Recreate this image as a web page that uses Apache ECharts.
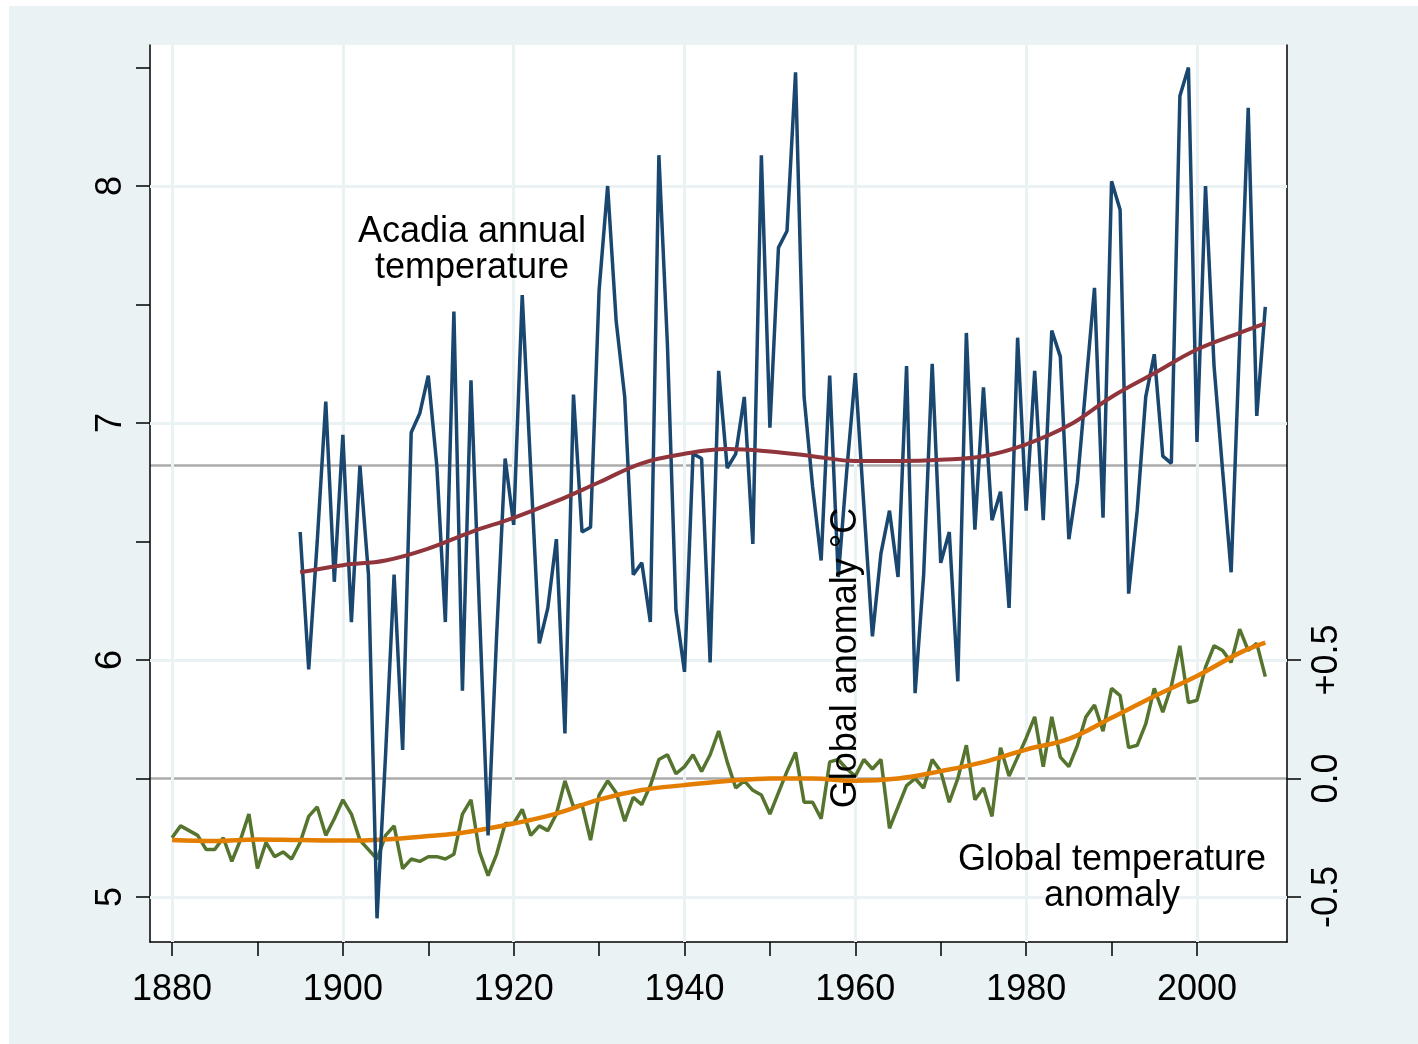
<!DOCTYPE html>
<html>
<head>
<meta charset="utf-8">
<script src="https://cdn.jsdelivr.net/npm/echarts@6/dist/echarts.min.js"></script>
<style>
html,body{margin:0;padding:0;background:#ffffff;}
#chart{width:1418px;height:1044px;}
</style>
</head>
<body>
<div id="chart"></div>
<script>
// ---------- DATA ----------
const acadiaYears = [1895,1896,1897,1898,1899,1900,1901,1902,1903,1904,1905,1906,1907,1908,1909,1910,1911,1912,1913,1914,1915,1916,1917,1918,1919,1920,1921,1922,1923,1924,1925,1926,1927,1928,1929,1930,1931,1932,1933,1934,1935,1936,1937,1938,1939,1940,1941,1942,1943,1944,1945,1946,1947,1948,1949,1950,1951,1952,1953,1954,1955,1956,1957,1958,1959,1960,1961,1962,1963,1964,1965,1966,1967,1968,1969,1970,1971,1972,1973,1974,1975,1976,1977,1978,1979,1980,1981,1982,1983,1984,1985,1986,1987,1988,1989,1990,1991,1992,1993,1994,1995,1996,1997,1998,1999,2000,2001,2002,2003,2004,2005,2006,2007,2008];
const acadiaTemp = [6.54,5.96,6.50,7.09,6.33,6.95,6.16,6.82,6.36,4.91,5.60,6.36,5.62,6.96,7.04,7.20,6.82,6.16,7.47,5.87,7.18,6.20,5.26,6.10,6.85,6.57,7.54,6.80,6.07,6.22,6.51,5.69,7.12,6.54,6.56,7.56,8.00,7.43,7.11,6.36,6.41,6.16,8.13,7.33,6.21,5.95,6.87,6.85,5.99,7.22,6.81,6.87,7.11,6.49,8.13,6.98,7.74,7.81,8.48,7.11,6.73,6.42,7.20,6.35,6.80,7.21,6.65,6.10,6.45,6.63,6.35,7.24,5.86,6.36,7.25,6.41,6.54,5.91,7.38,6.55,7.15,6.59,6.71,6.22,7.36,6.63,7.22,6.59,7.39,7.28,6.51,6.75,7.16,7.57,6.60,8.02,7.90,6.28,6.63,7.11,7.29,6.86,6.83,8.38,8.50,6.92,8.00,7.24,6.80,6.37,7.35,8.33,7.03,7.49];

const acadiaSmoothYears = [1895,1900,1905,1910,1915,1920,1925,1930,1935,1940,1945,1950,1955,1960,1965,1970,1975,1980,1985,1990,1995,2000,2005,2008];
const acadiaSmooth = [6.37,6.40,6.42,6.47,6.54,6.60,6.67,6.75,6.83,6.87,6.89,6.88,6.86,6.84,6.84,6.845,6.86,6.91,6.99,7.11,7.21,7.31,7.38,7.42];

const globalYears = [1880,1881,1882,1883,1884,1885,1886,1887,1888,1889,1890,1891,1892,1893,1894,1895,1896,1897,1898,1899,1900,1901,1902,1903,1904,1905,1906,1907,1908,1909,1910,1911,1912,1913,1914,1915,1916,1917,1918,1919,1920,1921,1922,1923,1924,1925,1926,1927,1928,1929,1930,1931,1932,1933,1934,1935,1936,1937,1938,1939,1940,1941,1942,1943,1944,1945,1946,1947,1948,1949,1950,1951,1952,1953,1954,1955,1956,1957,1958,1959,1960,1961,1962,1963,1964,1965,1966,1967,1968,1969,1970,1971,1972,1973,1974,1975,1976,1977,1978,1979,1980,1981,1982,1983,1984,1985,1986,1987,1988,1989,1990,1991,1992,1993,1994,1995,1996,1997,1998,1999,2000,2001,2002,2003,2004,2005,2006,2007,2008];
const globalAnom = [-0.25,-0.20,-0.22,-0.24,-0.30,-0.30,-0.25,-0.35,-0.26,-0.15,-0.38,-0.27,-0.33,-0.31,-0.34,-0.27,-0.16,-0.12,-0.24,-0.17,-0.09,-0.15,-0.26,-0.30,-0.34,-0.24,-0.20,-0.38,-0.34,-0.35,-0.33,-0.33,-0.34,-0.32,-0.15,-0.09,-0.31,-0.41,-0.32,-0.19,-0.19,-0.13,-0.24,-0.20,-0.22,-0.15,-0.01,-0.12,-0.11,-0.26,-0.07,-0.01,-0.06,-0.18,-0.08,-0.11,-0.03,0.08,0.10,0.02,0.05,0.10,0.03,0.10,0.20,0.07,-0.04,-0.01,-0.05,-0.07,-0.15,-0.06,0.03,0.11,-0.10,-0.10,-0.17,0.07,0.08,0.04,0.01,0.08,0.04,0.08,-0.21,-0.12,-0.03,0.00,-0.04,0.08,0.03,-0.10,0.00,0.14,-0.09,-0.04,-0.16,0.13,0.01,0.09,0.17,0.26,0.05,0.26,0.09,0.05,0.14,0.26,0.31,0.20,0.38,0.35,0.13,0.14,0.23,0.38,0.28,0.39,0.56,0.32,0.33,0.47,0.56,0.54,0.49,0.63,0.54,0.57,0.43];

const globalSmoothYears = [1880,1885,1890,1895,1900,1905,1910,1914,1920,1925,1930,1935,1940,1945,1950,1955,1960,1965,1970,1975,1980,1985,1990,1995,2000,2005,2008];
const globalSmooth = [-0.26,-0.264,-0.257,-0.26,-0.262,-0.257,-0.243,-0.229,-0.19,-0.148,-0.089,-0.049,-0.028,-0.011,0.0,0.0,-0.01,0.0,0.031,0.069,0.122,0.167,0.256,0.347,0.432,0.53,0.573];

const xTickValues = [1880,1890,1900,1910,1920,1930,1940,1950,1960,1970,1980,1990,2000];
const xLabelValues = [1880,1900,1920,1940,1960,1980,2000];
const leftTickValues = [5,5.5,6,6.5,7,7.5,8,8.5];
const leftLabelValues = [5,6,7,8];
const rightTickValues = [-0.5,0,0.5];
const refAcadiaMean = 6.823;
const refAnomZero = 0;

// ---------- CHART ----------
const FONT = '"Liberation Sans", Arial, sans-serif';
const chart = echarts.init(document.getElementById('chart'), null, {renderer: 'canvas'});
const pair = (xs, ys) => xs.map((x, i) => [x, ys[i]]);

const gridColor = '#eaf2f3';
const option = {
  animation: false,
  backgroundColor: '#ffffff',
  graphic: [
    {type: 'rect', z: -10, silent: true, shape: {x: 9, y: 6, width: 1418 - 9, height: 1044 - 6}, style: {fill: '#eaf2f3'}},
    {type: 'rect', z: -9, silent: true, shape: {x: 150, y: 45, width: 1137, height: 897}, style: {fill: '#ffffff'}},
    {type: 'text', z: 50, silent: true, x: 472, y: 250,
      style: {text: 'Acadia annual\ntemperature', font: '36px ' + FONT, fill: '#000', align: 'center', verticalAlign: 'middle', lineHeight: 36}},
    {type: 'text', z: 50, silent: true, x: 1112, y: 878,
      style: {text: 'Global temperature\nanomaly', font: '36px ' + FONT, fill: '#000', align: 'center', verticalAlign: 'middle', lineHeight: 36}},
    {type: 'text', z: 50, silent: true, x: 846, y: 658, rotation: Math.PI / 2,
      style: {text: 'Global anomaly °C', font: '36px ' + FONT, fill: '#000', align: 'center', verticalAlign: 'middle'}}
  ],
  grid: {left: 150, right: 131, top: 45, bottom: 102, containLabel: false},
  xAxis: {
    type: 'value', min: 1877.42, max: 2010.54,
    axisLine: {show: true, onZero: false, lineStyle: {color: '#000', width: 1.5}},
    axisTick: {show: true, customValues: xTickValues, length: 14, inside: false, lineStyle: {color: '#000', width: 1.5}},
    axisLabel: {show: true, customValues: xLabelValues, fontSize: 36, fontFamily: FONT, color: '#000', margin: 30,
      formatter: v => String(v)},
    splitLine: {show: false}
  },
  yAxis: [
    {
      type: 'value', min: 4.81, max: 8.595, position: 'left',
      axisLine: {show: true, onZero: false, lineStyle: {color: '#000', width: 1.5}},
      axisTick: {show: true, customValues: leftTickValues, length: 14, lineStyle: {color: '#000', width: 1.5}},
      axisLabel: {show: true, customValues: leftLabelValues, rotate: 90, fontSize: 36, fontFamily: FONT, color: '#000', margin: 21},
      splitLine: {show: false}
    },
    {
      type: 'value', min: 4.81 - 5.5, max: 8.595 - 5.5, position: 'right',
      axisLine: {show: true, onZero: false, lineStyle: {color: '#000', width: 1.5}},
      axisTick: {show: true, customValues: rightTickValues, length: 14, lineStyle: {color: '#000', width: 1.5}},
      axisLabel: {show: true, customValues: rightTickValues, rotate: 90, fontSize: 36, fontFamily: FONT, color: '#000', margin: 22,
        formatter: v => (v > 0 ? '+' : '') + Number(v).toFixed(1)},
      splitLine: {show: false}
    }
  ],
  series: [
    {
      name: 'refs', type: 'line', yAxisIndex: 0, data: [], silent: true,
      markLine: {
        z: 0, silent: true, symbol: 'none', animation: false, label: {show: false},
        lineStyle: {color: '#ababab', width: 2.5, type: 'solid'},
        emphasis: {disabled: true},
        data: [{yAxis: refAcadiaMean}, {yAxis: refAnomZero + 5.5}]
      }
    },
    {
      name: 'grid', type: 'line', yAxisIndex: 0, data: [], silent: true,
      markLine: {
        z: 1, silent: true, symbol: 'none', animation: false, label: {show: false},
        lineStyle: {color: gridColor, width: 3, type: 'solid'},
        emphasis: {disabled: true},
        data: xLabelValues.map(v => ({xAxis: v})).concat(leftLabelValues.map(v => ({yAxis: v})))
      }
    },
    {
      name: 'Global anomaly', type: 'line', yAxisIndex: 1, z: 3,
      data: pair(globalYears, globalAnom), showSymbol: false, symbol: 'none',
      lineStyle: {color: '#55752f', width: 3.5}
    },
    {
      name: 'Global smooth', type: 'line', yAxisIndex: 1, z: 4,
      data: pair(globalSmoothYears, globalSmooth), showSymbol: false, symbol: 'none', smooth: 0.4,
      lineStyle: {color: '#e37e00', width: 4.5}
    },
    {
      name: 'Acadia', type: 'line', yAxisIndex: 0, z: 5,
      data: pair(acadiaYears, acadiaTemp), showSymbol: false, symbol: 'none',
      lineStyle: {color: '#1a476f', width: 3.5}
    },
    {
      name: 'Acadia smooth', type: 'line', yAxisIndex: 0, z: 6,
      data: pair(acadiaSmoothYears, acadiaSmooth), showSymbol: false, symbol: 'none', smooth: 0.4,
      lineStyle: {color: '#90353b', width: 4}
    }
  ]
};
chart.setOption(option);
</script>
</body>
</html>
